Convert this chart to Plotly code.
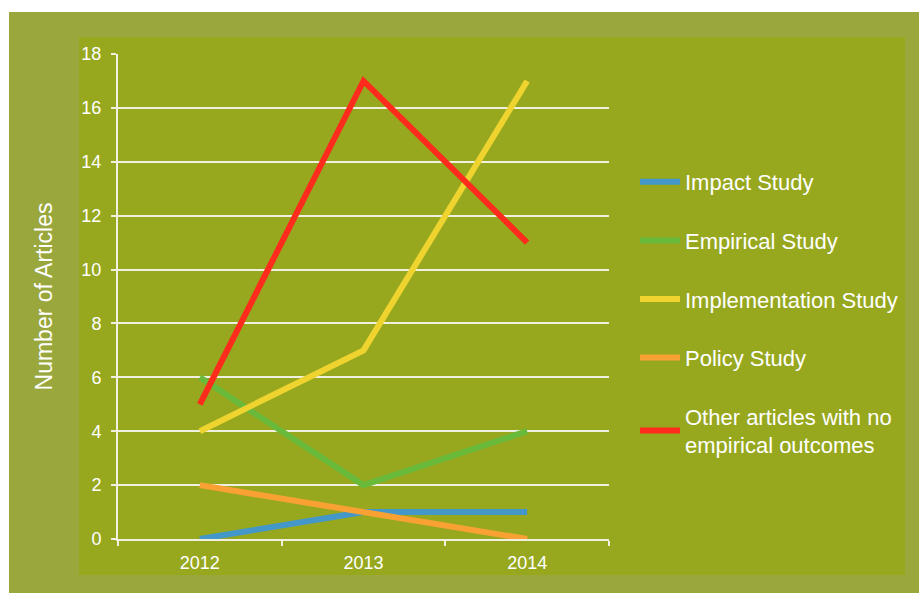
import plotly.graph_objects as go

years = ["2012", "2013", "2014"]
series_names = ["Impact Study", "Empirical Study", "Implementation Study", "Policy Study",
                "Other articles with no<br>empirical outcomes"]
impact = [0, 1, 1]
empirical = [6, 2, 4]
implementation = [4, 7, 17]
policy = [2, 1, 0]
other = [5, 17, 11]
colors = ["#4398c9", "#69b93a", "#efd42f", "#f9a132", "#ff2b1c"]
y_ticks = [0, 2, 4, 6, 8, 10, 12, 14, 16, 18]

W, H = 919, 593
L, R, T, B = 118, 609, 54, 539
pw, ph = R - L, B - T

def px(x):
    return (x - L) / pw

def py(y):
    return (B - y) / ph

fig = go.Figure()
for name, vals, col in zip(series_names, [impact, empirical, implementation, policy, other], colors):
    fig.add_trace(go.Scatter(x=[0, 1, 2], y=vals, name=name, mode="lines",
                             line=dict(color=col, width=6), legendgroup=name))

outer = "#9aa73c"
inner = "#97a81f"
fig.add_shape(type="rect", xref="paper", yref="paper", x0=px(9), x1=px(919), y0=py(593), y1=py(12),
              fillcolor=outer, line_width=0, layer="below")
fig.add_shape(type="rect", xref="paper", yref="paper", x0=px(79), x1=px(905), y0=py(575), y1=py(37),
              fillcolor=inner, line_width=0, layer="below")

font = "Liberation Sans, Arial, Helvetica, sans-serif"
grid = "#f0f0e0"
fig.update_layout(
    width=W, height=H,
    margin=dict(l=L, r=W - R, t=T, b=H - B),
    paper_bgcolor="white", plot_bgcolor="rgba(0,0,0,0)",
    font=dict(family=font, color="white", size=18),
    xaxis=dict(range=[-0.5, 2.5], tickmode="array", tickvals=[0, 1, 2], ticktext=years,
               showgrid=False, zeroline=False, showline=True, linecolor=grid, linewidth=2,
               ticks="", ticklabelstandoff=6, tickfont=dict(size=18, color="white"), fixedrange=True,
               minor=dict(tickvals=[-0.5, 0.5, 1.5, 2.5], ticks="outside", ticklen=5,
                          tickcolor=grid, tickwidth=2, showgrid=False)),
    yaxis=dict(range=[0, 18], tickvals=y_ticks, showgrid=True, gridcolor=grid, gridwidth=2,
               zeroline=False, showline=True, linecolor=grid, linewidth=2,
               ticks="outside", ticklen=5, tickcolor=grid, tickwidth=2, ticklabelstandoff=6,
               tickfont=dict(size=18, color="white"),
               title=dict(text="Number of Articles", font=dict(size=23, color="white"), standoff=22)),
    legend=dict(x=px(635), y=py(161), xanchor="left", yanchor="top", bgcolor="rgba(0,0,0,0)",
                font=dict(size=22, color="white"), itemwidth=40, tracegroupgap=27,
                traceorder="grouped"),
    showlegend=True,
)
fig.write_html("out.html")
